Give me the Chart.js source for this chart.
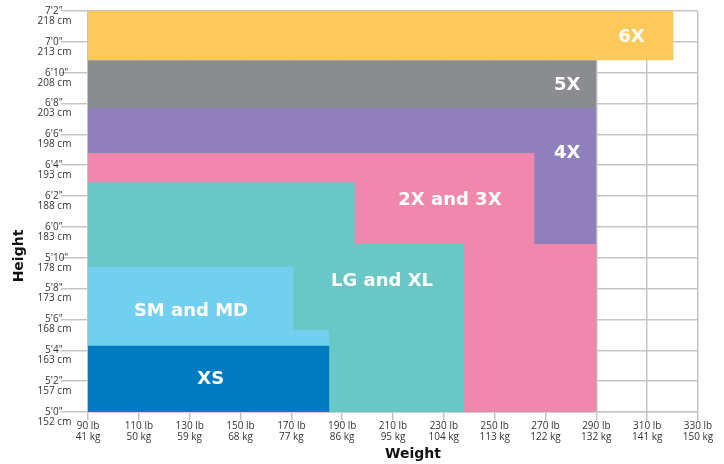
<!DOCTYPE html>
<html>
<head>
<meta charset="utf-8">
<script src="https://cdn.jsdelivr.net/npm/chart.js@4/dist/chart.umd.min.js"></script>
<style>
  html, body { margin: 0; padding: 0; background: #fff; }
</style>
</head>
<body>
<canvas id="sizeChart" width="724" height="464"></canvas>
<script>
// sizes, first one is drawn on top
const sizes = ['XS', 'SM and MD', 'LG and XL', '2X and 3X', '4X', '5X', '6X'];
const sizeColors = ['#007bc1', '#72cff0', '#69c7c5', '#f088ad', '#8f7fbc', '#8b8c8f', '#fec95b'];

// each size is a staircase: upper step, then a wider lower step (lb / inches)
const topHeight = [64.3, 69.4, 74.9, 76.8, 79.7, 82.8, 86];
const topWeight = [185, 170.8, 195, 265.6, 290, 290, 320.4];
const stepHeight = [64.3, 65.3, 70.9, 70.9, 70.9, 79.7, 82.8];
const stepWeight = [185, 185, 238, 290, 290, 290, 320.4];
const baseHeight = [60, 60, 60, 60, 60, 60, 82.8];

// axis ticks
const weightLb = [90, 110, 130, 150, 170, 190, 210, 230, 250, 270, 290, 310, 330];
const weightKg = ['41 kg', '50 kg', '59 kg', '68 kg', '77 kg', '86 kg', '95 kg', '104 kg', '113 kg', '122 kg', '132 kg', '141 kg', '150 kg'];
const heightIn = [60, 62, 64, 66, 68, 70, 72, 74, 76, 78, 80, 82, 84, 86];
const heightFt = ['5\'0"', '5\'2"', '5\'4"', '5\'6"', '5\'8"', '5\'10"', '6\'0"', '6\'2"', '6\'4"', '6\'6"', '6\'8"', '6\'10"', '7\'0"', '7\'2"'];
const heightCm = ['152 cm', '157 cm', '163 cm', '168 cm', '173 cm', '178 cm', '183 cm', '188 cm', '193 cm', '198 cm', '203 cm', '208 cm', '213 cm', '218 cm'];

// where the size names sit (lb / inches)
const labelWeight = [138.3, 130.5, 205.7, 232.4, 278.5, 278.5, 303.8];
const labelHeight = [62.1, 66.5, 68.5, 73.7, 76.8, 81.2, 84.3];

const gridColor = '#c4c4c4';
const textColor = '#333';

const datasets = sizes.map((name, i) => ({
    label: name,
    data: [
        { x: weightLb[0], y: topHeight[i] },
        { x: topWeight[i], y: topHeight[i] },
        { x: topWeight[i], y: stepHeight[i] },
        { x: stepWeight[i], y: stepHeight[i] }
    ],
    showLine: true,
    borderColor: sizeColors[i],
    backgroundColor: sizeColors[i],
    borderWidth: 0,
    pointRadius: 0,
    tension: 0,
    fill: { value: baseHeight[i] }
}));

const chartText = {
    id: 'chartText',
    afterDatasetsDraw(chart) {
        const { ctx, scales: { x, y } } = chart;
        ctx.save();
        ctx.fillStyle = '#fff';
        ctx.font = 'bold 18px "DejaVu Sans"';
        ctx.textAlign = 'center';
        ctx.textBaseline = 'middle';
        sizes.forEach((s, i) => {
            ctx.fillText(s, x.getPixelForValue(labelWeight[i]), y.getPixelForValue(labelHeight[i]));
        });
        ctx.restore();
    },
    afterDraw(chart) {
        const { ctx, scales: { x, y } } = chart;
        ctx.save();
        ctx.fillStyle = textColor;
        ctx.font = '10px "Open Sans"';
        ctx.textBaseline = 'middle';
        heightIn.forEach((v, i) => {
            const py = y.getPixelForValue(v);
            ctx.textAlign = 'left';
            ctx.fillText(heightFt[i], 45, py);
            ctx.textAlign = 'center';
            ctx.fillText(heightCm[i], 54.5, py + 10);
        });

        ctx.fillStyle = '#111';
        ctx.font = 'bold 14px "DejaVu Sans"';
        ctx.textAlign = 'center';
        ctx.fillText('Weight', 413, 454);
        ctx.translate(19, 256);
        ctx.rotate(-Math.PI / 2);
        ctx.fillText('Height', 0, 0);
        ctx.restore();
    }
};

new Chart(document.getElementById('sizeChart'), {
    type: 'scatter',
    data: { datasets: datasets },
    options: {
        responsive: false,
        animation: false,
        layout: { padding: { top: 11, right: 26, left: 0, bottom: 0 } },
        plugins: {
            legend: { display: false },
            tooltip: { enabled: false }
        },
        scales: {
            x: {
                type: 'linear',
                min: 90,
                max: 330,
                afterBuildTicks: s => { s.ticks = weightLb.map(v => ({ value: v })); },
                afterFit: s => { s.height = 52; },
                grid: { color: gridColor, lineWidth: 1.5, tickLength: 8 },
                border: { color: gridColor, width: 1.5 },
                ticks: {
                    autoSkip: false,
                    maxRotation: 0,
                    padding: 1,
                    color: textColor,
                    font: { family: 'Open Sans', size: 10, lineHeight: 1.05 },
                    callback: (v, i) => [v + ' lb', weightKg[i]]
                }
            },
            y: {
                type: 'linear',
                min: 60,
                max: 86,
                afterBuildTicks: s => { s.ticks = heightIn.map(v => ({ value: v })); },
                afterFit: s => { s.width = 88; },
                grid: { color: gridColor, lineWidth: 1.5, tickLength: 27 },
                border: { color: gridColor, width: 1.5 },
                ticks: { display: false }
            }
        }
    },
    plugins: [chartText]
});
</script>
</body>
</html>
